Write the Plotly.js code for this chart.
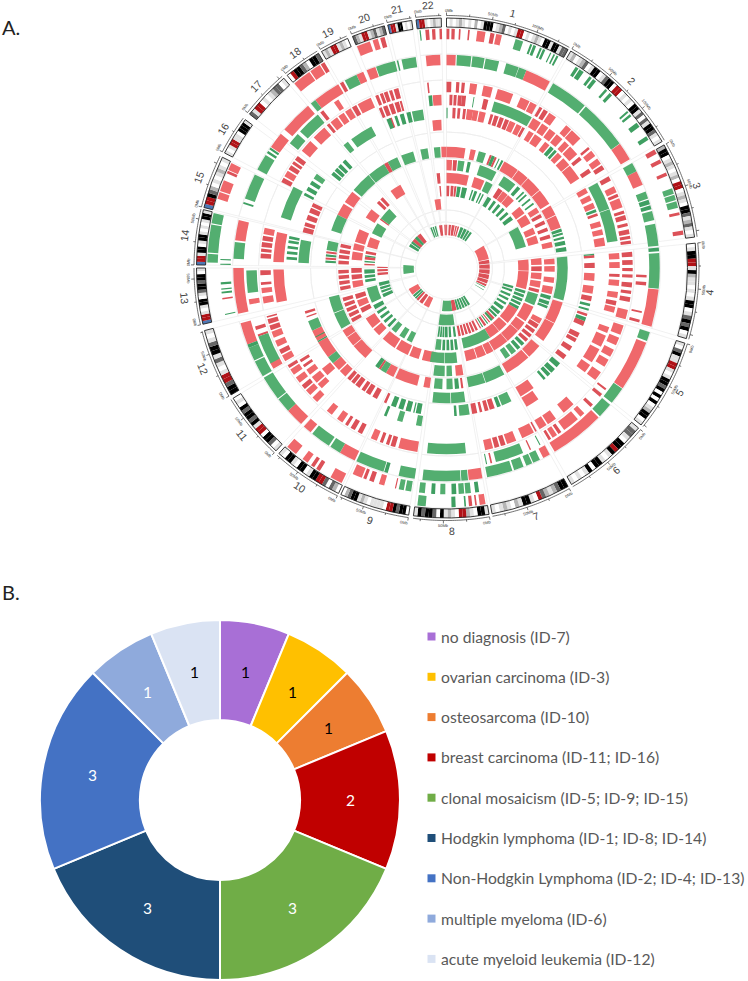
<!DOCTYPE html>
<html><head><meta charset="utf-8"><script src="https://cdn.plot.ly/plotly-3.0.1.min.js"></script>
<style>html,body{margin:0;padding:0;background:#fff}</style></head><body><div id="c" style="width:748px;height:981px"></div>
<script>
const chromNames=['1','2','3','4','5','6','7','8','9','10','11','12','13','14','15','16','17','18','19','20','21','22'];
const chromStart=[0,29.8,60.5,84.3,107.5,129.8,150.9,170.2,188.7,205.6,223,239.5,257,270.7,284,297.4,308,320.4,330,337.9,346.4,353];
const chromEnd=[29.1,59.6,82.9,106.4,128.9,150,169.5,187.6,205,222.1,238.6,255.5,270,283.5,296.3,306.4,319.4,329.2,336.7,345.6,352,358.8];
const chromBands=['wlwlglwlwgwlkkkwlgdwlwlrrwlwlglwkklkkldd','lgwlgdwlkkwldkkwrrwlwlwkkldwdlkkdlwl','gkkwlglwlgwrrwlglwkkdlgdlwl','wlkkrrlkgllwlwlkkwldkdkwl','lwdkllrrlwlkkdkwkwkwlgkkwl','lddlwkkrklwlkkwklwlwl','kkdglgdrwlkklgwlglwl','lkkwlgrrwlglkwdkkdkl','wkkdkrrwllllwlglkkdgw','wgdwdrrkklwkkwlkkwl','lwdkkwrrlkdkkdkwlw','kkdrrlwldlkkdlwl','brrlwlkkwldkkdkkwl','brrlkkwlkklwlwlkkl','brrkdgwlwlglwl','lwlrrllwkkkl','dlrrwlwlgddwl','wrkkdgwkkd','lglrrlglw','dglrrlgdlgd','brrlkkwlwl','brrlwlgll'];
const stainKeys=['w','l','g','d','k','r','b'];
const stainColors=['#ffffff','#e2e2e2','#b5b5b5','#666666','#000000','#b01217','#4d79b5'];
const tickMb=[0,25,50,75,100,125];
const labelMb=[0,50,100];
const degPerMb=0.21;

const trackRadii=[234,221,208,195,181,168,155,143,130,116,103,90,77,64,52,38];

const redT0=[[0,0.7],[1.2,2],[3,3.4],[5.2,5.6],[7.4,9.4],[10.6,11.6],[12,13.4],[60.3,61.5],[63,64],[66.5,67.3],[76.5,77.2],[81,82],[172.7,173.1],[173.8,174.6],[170.6,172],[206,209],[212,213],[213.6,214.5],[215.5,217],[219,221.7],[286.8,288.5],[288.8,291.5],[293.3,294],[294.2,296],[320.5,325],[325.3,328],[328.3,329.3],[338,341.3],[342,343.3],[343.9,345],[354.9,355.8],[356.5,357.3],[358.3,358.9]];
const greenT0=[[16.8,18.7],[20.5,21],[21.3,22],[23,23.5],[23.8,24.4],[25.7,26],[26.6,27],[27.4,27.9],[32.7,33.5],[33.8,35],[36.7,37.4],[37.8,38.7],[41.6,42.2],[43,43.8],[49,49.5],[50,50.6],[52.6,53.8],[56.6,57.6],[70.5,71.9],[72.2,73.5],[73.8,75.4],[175.3,175.7],[177.8,178.8],[185,187],[271.3,273.4],[273.7,280.5],[280.8,283.3],[353.5,353.8]];
const redT1=[[192.9,193.2],[196,197.4],[198.8,200],[200.8,201.6],[202,204.5],[262,262.4]];
const greenT1=[[171.7,172.7],[173.8,175.2],[175.5,176.9],[177.5,178.7],[180.3,181.6],[182.9,183.9],[185.5,187],[189,190.5],[190.9,192.2],[258,258.3],[263.5,264],[264.5,264.8],[265.8,266.4],[270.8,271.1],[272,272.3]];
const redT2=[[0,2.5],[22,29],[54.4,59.3],[63,67],[95.8,106],[110.5,124.3],[134.5,149.5],[151,153],[170.3,174],[205.5,210],[219.6,222],[223,228],[249,255],[257.6,270],[277.5,283],[304.6,309],[310.5,319.5],[322,329.5],[330,331],[335,337],[338,340.5],[354.4,358.3]];
const greenT2=[[2.8,6.7],[7,10.3],[10.6,14.3],[16.3,19.8],[19.9,22],[30,40.4],[40.8,54.3],[60.5,63],[69,71],[71.3,72.6],[72.9,74],[74.5,77],[78,84],[84.5,85.5],[86,95.6],[107.5,110],[124.5,129.2],[129.9,134],[154,156],[156.3,158],[158.8,161.5],[162,169],[174.2,176],[176.2,186.5],[188.6,193],[196,197],[197.2,205],[210,213],[213.5,219],[228,232],[232.3,239],[239.5,244],[244.3,248],[248,249],[272.5,277],[287.5,288],[289,296],[297.5,302],[302.6,303.3],[303.8,304.4],[320.5,322],[331.5,335],[340.7,346],[346.5,346.9],[347.8,351.7]];
const redT3=[[92,92.7],[94,95],[102.5,103],[105,105.8],[127,127.6],[129,130],[133,134],[136.5,138],[139,144],[145,146],[146.5,148],[148.5,149.3],[155,155.4],[166.8,167.3],[239.8,242],[250,250.6],[252,253],[259.5,261],[320.9,322],[325.8,327.3]];
const greenT3=[[152,152.3],[157.5,165.7],[168.3,168.6],[241.5,250],[262.8,269.3],[308.5,312],[313,320]];
const redT4=[[0,1.5],[3,4],[4.7,5.7],[7.3,9.5],[11.5,14.4],[16,21],[23.5,26.5],[26.8,29],[30,31],[31.5,33],[33.5,36],[40,42],[42.3,46],[49.5,50.3],[51,53],[54,56],[56.5,58],[60.5,62],[64,66],[66.5,67.5],[68,71],[72,73],[73.5,75],[76,77],[78,79.5],[80,81],[81.5,82.5],[85,86.5],[87.5,89],[90,91],[92,93],[94.5,96],[97,98],[99,100.5],[103,106],[108,111],[112,114.5],[116,118.5],[119.5,122],[124,127],[137,141],[144,147],[147.5,150],[151,151.5],[152,156],[158,161],[161.5,163],[163.5,165],[165.5,168],[189,195],[196,197.5],[198,199],[200,201],[202,204],[207,208.5],[209.5,211],[212,213],[214,216],[218,220],[224,226],[227,229],[229.5,231],[232,234],[235,237],[237.5,238.5],[240,242],[242.5,244],[245,247],[248,250],[250.5,252],[252.5,254],[254.5,255],[259,261.1],[262.2,263.8],[264.8,265.6],[267.8,269.3],[273,274.5],[275,276],[276.5,278],[278.5,280],[280.5,282.5],[297.5,299],[299.5,301.5],[302,303.5],[304,305],[305.5,307],[309,313],[314.5,319],[320,321],[321.5,324],[324.5,326.5],[327,329],[329.5,331],[331.5,336],[337.5,338.5],[339,340],[340.3,341.5],[342,343],[343.5,345],[354,354.5]];
const greenT4=[[174,186]];
const redT5=[[1,2],[2.4,3.4],[3.8,5.1],[5.1,6.5],[12.4,14],[30,33],[33.5,36],[36.5,39],[39.5,42],[43,45],[45.5,49],[50,51.3],[55,56.5],[85,87],[88,90],[92,93],[94,96],[98,100],[101,102.5],[103,105],[110,112],[113,117],[118,123],[124,127],[226,228],[228.5,231],[232,234],[235,236],[237,238],[258.5,269.5],[272,282],[337,338],[338.5,340],[340.5,342],[342.5,344],[344.3,345],[355.4,358.3]];
const greenT5=[[9,9.3],[16,29.5],[60.5,70],[70.2,81],[287,298],[354,355.2]];
const redT6=[[2.2,3.3],[4,5],[6,7],[7.4,9.6],[9.6,11.5],[11.9,14.2],[16,17],[17.5,19],[19.5,21],[21.5,23],[23.3,25.5],[26,28],[28.3,29.3],[31,33],[33.5,36.5],[38,40],[44,46],[46.8,50],[50.3,56],[60,62],[63,65],[66,68],[70,71],[73,75],[76,78],[79,82],[145,150],[228,231],[339,340]];
const greenT6=[[0,0.4],[40.5,42],[42.5,43.5],[68.5,69.5],[189,191],[196,198],[202,203],[273,274],[275,276],[277,278],[279,280],[280.5,281.5],[297,298],[299,300.5],[301.5,303],[304,306],[320,322],[323.5,332],[338,339.5],[341,342],[343,344.5],[345.5,347],[347.5,351.5]];
const redT7=[[85,86],[88,90],[92,95],[97,100],[101,103],[108,109],[111,113],[116,118],[118.5,120],[122,124],[126,128],[144,150],[161,163],[163.5,165],[166,167],[168,170],[195.5,196],[204,205],[208,210],[211,213],[213.5,215],[216,218],[218.5,220],[220.5,222],[223,226],[226.5,230],[233,240],[240.5,245],[250.5,251],[252,253],[284,286],[286.5,288],[289,291],[292,294],[294.5,296],[354.5,358]];
const greenT7=[[84.5,85],[104,105],[106,106.8],[109.5,111],[130,132],[133,135],[135.5,137],[138,139],[154,158],[158.5,160],[171,175],[176,177],[190,192],[192.5,193],[194,196],[197,199],[200,202],[230,233],[240,240.5],[242,242.4],[245,249],[272,281],[309,310.5],[311,312.5],[313,314.5],[315.5,317]];
const greenT8=[[172,178],[178.3,186]];
const redT9=[[0,9],[11.5,14],[21,22],[23.5,24.5],[28.5,36],[36.3,42],[42.3,50],[50.3,58],[59,64],[64.3,70.5],[106.5,117],[117.3,127],[130,137],[137.5,150],[172,173],[188,191],[194,205],[206,210],[213,214],[222,230],[230.3,235],[235.3,239],[274,275],[277,278],[296,302],[303,309],[329,331],[357.5,360]];
const greenT9=[[15.5,19],[22,23.5],[25.5,26],[27,28],[71,72.5],[73,74],[75,76],[77,79],[80,82],[84.5,105.5],[151.5,161],[161.3,169.5],[174,176],[177,180],[182,186],[210,213],[214,216],[240,248],[248.3,256],[272.5,273.5],[275.5,276.5],[278.5,283],[288,296],[310,320],[320.3,329],[331,336],[338,344],[347.5,351],[354,357]];
const redT10=[[0,3],[3.5,5.6],[56,59],[60,62],[64,66],[68,70],[72,74],[76,79],[85,88],[89,92],[95,98],[100,104],[118,121],[121.5,124],[125,127],[128,130],[131,133],[171,175],[240,242],[243,245],[246,248],[249,251],[252,254],[258,260],[261,263],[264,266],[267,269],[272,274],[275,277],[278,280],[281,283]];
const greenT10=[[6.2,9.6],[11.3,13],[18,27.5],[32,39.5],[41,43],[45,46],[47,48],[50,51],[53,54],[105,107],[108,110],[110.5,112],[134,136],[137,139],[140,143],[144,147],[177,180],[181,187]];
const redT11=[[0,13.6],[17,23.5],[33,36],[36.3,40],[40.3,45],[50,55],[56,62],[65,69],[70,75],[84,88],[89,92],[93,97],[98,102],[103,105],[114,124],[125,131],[131.3,140],[140.3,150],[150.5,155],[155.5,161],[161.5,168],[188,195],[197,203],[204,212],[213,222],[225,230],[231,238],[242,245],[246,250],[251,254],[258,262],[263,266],[267,270],[275,280],[281,285],[286,294],[302,308],[313,315],[316,318],[324,331],[354,356]];
const greenT11=[[24.5,29],[106,113],[173.5,181],[181.3,190]];
const redT12=[[0,2],[3,5],[5.5,7],[84,92],[92.3,105],[120,132],[133,140],[140.3,148],[272,273],[276,278],[280,282],[285,292],[306,307],[355,356]];
const greenT12=[[7.5,10],[11,14.5],[18,19],[20,22],[24,25],[26,27],[30,33],[35,37],[39,41],[43,45],[47,49],[51,54],[60,75],[106,108],[109,111],[112,114],[115,117],[118,120],[148,168],[172,174],[175,177],[178,180],[181,183],[184,188],[205,209],[211,215],[218,222],[224,226],[228,230],[232,234],[236,238],[240,243],[245,256],[260,262],[263,265],[266,269],[274,275],[278,279],[295,303],[307,316]];
const redT13=[[153,155],[156,158],[159,161],[162,164],[165,167],[168,170],[136,138],[141,142],[145,147],[150,151],[264,266],[267,269],[270,271],[350,355]];
const greenT13=[[105,107],[108,110],[112,114],[116,118],[120,122],[124,127],[129,132],[133,135],[138,140],[143,144],[148,149],[172,174],[176,178],[179,181.5],[182,183.5],[184,185.5],[186,187.5],[245,248],[249,251],[252,254],[255,258]];
const greenT14=[[172,188]];
const redT15=[[350,354.3],[357,359],[359.5,361],[3,6],[7,11],[12,14],[15,17],[59,78],[79,84],[85,91],[92,98],[99,105],[106,111],[112,115],[166.5,172.5],[204,212],[214,219],[221,224],[232,241],[308,313],[317,323]];
const greenT15=[[19,23],[24,28],[29,32],[33,36],[116,117],[120,121],[147,150],[151,154],[155,158],[159,162],[163,166],[172.5,186],[224.5,227],[228,231],[262,274],[300,304],[305,308],[313,317],[338,340],[341,343],[344,346]];

const redTracks=[redT0,redT1,redT2,redT3,redT4,redT5,redT6,redT7,[],redT9,redT10,redT11,redT12,redT13,[],redT15];
const greenTracks=[greenT0,greenT1,greenT2,greenT3,greenT4,greenT5,greenT6,greenT7,greenT8,greenT9,greenT10,greenT11,greenT12,greenT13,greenT14,greenT15];

const frameEdges=[240,214,188,136,110,58,46,31];

const donutLabels=['no diagnosis (ID-7)','ovarian carcinoma (ID-3)','osteosarcoma (ID-10)','breast carcinoma (ID-11; ID-16)','clonal mosaicism (ID-5; ID-9; ID-15)','Hodgkin lymphoma (ID-1; ID-8; ID-14)','Non-Hodgkin Lymphoma (ID-2; ID-4; ID-13)','multiple myeloma (ID-6)','acute myeloid leukemia (ID-12)'];
const donutValues=[1,1,1,2,3,3,3,1,1];
const donutColors=['#a86fd6','#ffc000','#ed7d31','#c00000','#70ad47','#1f4e79','#4472c4','#8faadc','#dae3f3'];
const donutTextColors=['#000','#000','#000','#fff','#fff','#fff','#fff','#fff','#000'];

// layout constants
const W=748,H=981,cx=446.5,cy=268,Rmax=267;
const donutCx=220,donutCy=800,donutMid=130;
const thick=10.5;
function px(theta,r){const a=theta*Math.PI/180;return [cx+r*Math.sin(a),cy-r*Math.cos(a)];}
const traces=[];

(function(){const t=[],w=[],b=[],rr=[];
 chromStart.forEach((s,i)=>{for(let k=0;k<frameEdges.length-1;k++){t.push((s+chromEnd[i])/2);w.push(chromEnd[i]-s);b.push(frameEdges[k+1]);rr.push(frameEdges[k]-frameEdges[k+1]);}});
 traces.push({type:'barpolar',subplot:'polar',theta:t,width:w,base:b,r:rr,hoverinfo:'skip',showlegend:false,marker:{color:'rgba(0,0,0,0)',line:{color:'#eeeeee',width:0.8}}});
})();
function segTrace(list,fat,thin){
 const g={fat:{t:[],w:[],b:[],r:[]},thin:{t:[],w:[],b:[],r:[]}};
 list.forEach((segs,k)=>{const R=trackRadii[k];segs.forEach(s=>{const arc=(s[1]-s[0])*Math.PI/180*R;const o=arc<5?g.thin:g.fat;o.t.push((s[0]+s[1])/2);o.w.push(s[1]-s[0]);o.b.push(R-thick/2);o.r.push(thick);});});
 traces.push({type:'barpolar',subplot:'polar',theta:g.fat.t,width:g.fat.w,base:g.fat.b,r:g.fat.r,showlegend:false,hoverinfo:'skip',marker:{color:fat,line:{width:0}}});
 traces.push({type:'barpolar',subplot:'polar',theta:g.thin.t,width:g.thin.w,base:g.thin.b,r:g.thin.r,showlegend:false,hoverinfo:'skip',marker:{color:thin,line:{width:0}}});
}
segTrace(redTracks,'#ef686b','#dc5158');
segTrace(greenTracks,'#53ae70','#3f9f62');
(function(){const t=[],w=[],c=[];
 chromBands.forEach((str,i)=>{const step=(chromEnd[i]-chromStart[i])/str.length;
  [...str].forEach((ch,j)=>{t.push(chromStart[i]+(j+.5)*step);w.push(step);c.push(stainColors[stainKeys.indexOf(ch)]);});});
 traces.push({type:'barpolar',subplot:'polar',theta:t,width:w,base:t.map(()=>241),r:t.map(()=>9),showlegend:false,hoverinfo:'skip',marker:{color:c,line:{width:0}}});
 traces.push({type:'barpolar',subplot:'polar',theta:chromStart.map((s,i)=>(s+chromEnd[i])/2),width:chromStart.map((s,i)=>chromEnd[i]-s),base:chromStart.map(()=>241),r:chromStart.map(()=>9),showlegend:false,hoverinfo:'skip',marker:{color:'rgba(0,0,0,0)',line:{color:'#222',width:0.9}}});
})();
(function(){const th=[],rr=[];
 chromStart.forEach((s,i)=>{for(let a=s;a<chromEnd[i];a+=0.5){th.push(a);rr.push(252.5);}th.push(chromEnd[i]);rr.push(252.5);th.push(null);rr.push(null);
  tickMb.forEach(m=>{const a=s+m*degPerMb;if(a<chromEnd[i]){th.push(a,a,null);const big=labelMb.includes(m);rr.push(252.5,big?255.5:254.5,null);}});});
 traces.push({type:'scatterpolar',subplot:'polar',mode:'lines',theta:th,r:rr,line:{color:'#333',width:0.7},connectgaps:false,showlegend:false,hoverinfo:'skip'});
})();
traces.push({type:'pie',labels:donutLabels,values:donutValues,sort:false,direction:'clockwise',rotation:0,hole:0.445,
 domain:{x:[40/W,400/W],y:[1-980/H,1-620/H]},marker:{colors:donutColors,line:{color:'#fff',width:2}},
 textinfo:'none',showlegend:false,hoverinfo:'label+value'});

const ann=[],shp=[];
function paper(x,y){return {x:x/W,y:1-y/H,xref:'paper',yref:'paper'};}
chromNames.forEach((n,i)=>{const mid=(chromStart[i]+chromEnd[i])/2;const p=px(mid,263.5);
 let rot=mid<=90?mid:(mid<270?mid-180:mid-360);
 ann.push(Object.assign(paper(p[0],p[1]),{text:n,showarrow:false,textangle:rot,font:{family:'Liberation Sans, Arial, sans-serif',size:10.5,color:'#444'},xanchor:'center',yanchor:'middle'}));
 labelMb.forEach(m=>{const a=chromStart[i]+m*degPerMb;if(a<chromEnd[i]-2||m===0){const q=px(a+(m===0?0.7:0),258);
  let r=a<=90?a:(a<270?a-180:a-360);
  ann.push(Object.assign(paper(q[0],q[1]),{text:m+'Mb',showarrow:false,textangle:r,font:{family:'Liberation Sans, Arial, sans-serif',size:4,color:'#333'},xanchor:'center',yanchor:'middle'}));}});
});
ann.push(Object.assign(paper(0,27),{text:'A.',showarrow:false,xanchor:'left',yanchor:'middle',font:{family:'Lato, sans-serif',size:20,color:'#222'}}));
ann.push(Object.assign(paper(0,592),{text:'B.',showarrow:false,xanchor:'left',yanchor:'middle',font:{family:'Lato, sans-serif',size:20,color:'#222'}}));
const donutTotal=donutValues.reduce((a,b)=>a+b,0);
let run=0;
donutValues.forEach((v,i)=>{const a=(run+v/2)/donutTotal*2*Math.PI;run+=v;
 ann.push(Object.assign(paper(donutCx+donutMid*Math.sin(a),donutCy-donutMid*Math.cos(a)),{text:String(v),showarrow:false,xanchor:'center',yanchor:'middle',font:{family:'Lato, sans-serif',size:15.5,color:donutTextColors[i]}}));
});
donutLabels.forEach((l,i)=>{const y=636.5+i*40.3;
 ann.push(Object.assign(paper(439,y),{text:l,showarrow:false,xanchor:'left',yanchor:'middle',font:{family:'Lato, sans-serif',size:15.7,color:'#595959'}}));
 shp.push({type:'rect',xref:'paper',yref:'paper',x0:427.5/W,x1:435.5/W,y0:1-(y-4)/H,y1:1-(y+4)/H,fillcolor:donutColors[i],line:{width:0}});
});

Plotly.newPlot('c',traces,{width:W,height:H,margin:{l:0,r:0,t:0,b:0},paper_bgcolor:'#fff',showlegend:false,annotations:ann,shapes:shp,
 polar:{domain:{x:[(cx-Rmax)/W,(cx+Rmax)/W],y:[1-(cy+Rmax)/H,1-(cy-Rmax)/H]},barmode:'overlay',bgcolor:'rgba(0,0,0,0)',
  radialaxis:{visible:false,range:[0,Rmax]},angularaxis:{visible:false,direction:'clockwise',rotation:90,thetaunit:'degrees'}}},{displayModeBar:false,staticPlot:true});
</script></body></html>
